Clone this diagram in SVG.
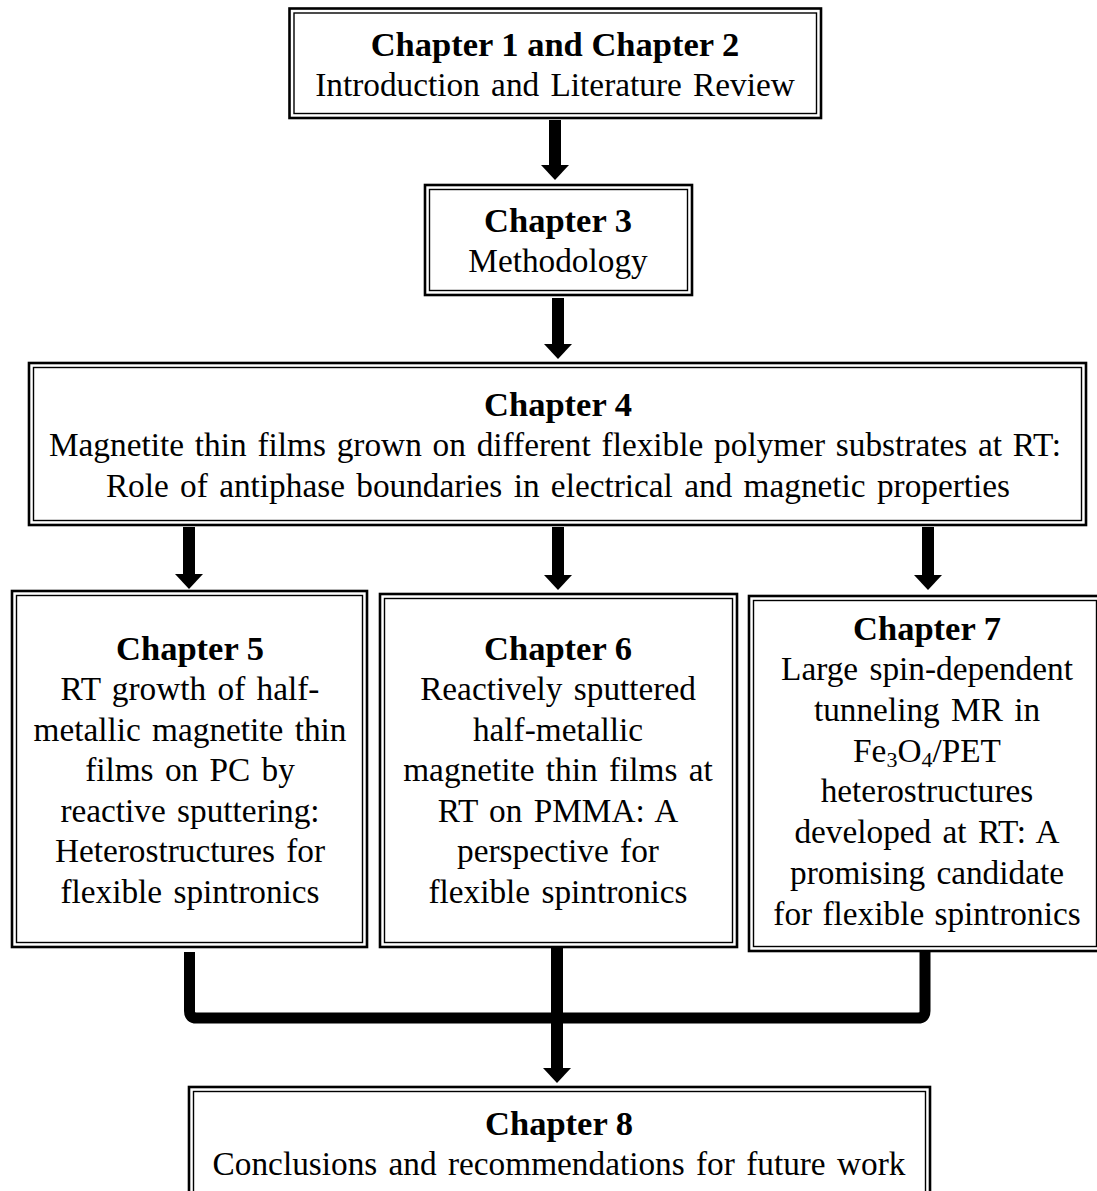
<svg xmlns="http://www.w3.org/2000/svg" width="1097" height="1191" viewBox="0 0 1097 1191">
<style>
.o{fill:#fff;stroke:#000;stroke-width:2.6}
.i{fill:none;stroke:#000;stroke-width:1.4}
text{font-family:"Liberation Serif","Times New Roman",serif;font-size:33.3px;fill:#000;text-anchor:middle}
.b{font-weight:bold;font-size:34.5px}
.sh{stroke:#000;stroke-width:12;fill:none}
.hd{fill:#000}
.sub{font-size:22px}
</style>
<rect width="1097" height="1191" fill="#fff"/>
<g id="connectors">
<line class="sh" x1="555" y1="120" x2="555" y2="166"/><polygon class="hd" points="541,165 569,165 555,180"/>
<line class="sh" x1="558" y1="298" x2="558" y2="345"/><polygon class="hd" points="544,344 572,344 558,359"/>
<line class="sh" x1="189" y1="527" x2="189" y2="575"/><polygon class="hd" points="175,574 203,574 189,589"/>
<line class="sh" x1="558" y1="527" x2="558" y2="576"/><polygon class="hd" points="544,575 572,575 558,590"/>
<line class="sh" x1="928" y1="527" x2="928" y2="576"/><polygon class="hd" points="914,575 942,575 928,590"/>
<path d="M189.5 952 V1011 Q189.5 1018 196.5 1018 H918 Q925 1018 925 1011 V952" fill="none" stroke="#000" stroke-width="11"/>
<line class="sh" x1="557" y1="947" x2="557" y2="1069"/><polygon class="hd" points="543,1068 571,1068 557,1083"/>
</g>
<g id="ch12">
<rect class="o" x="289.5" y="8.5" width="531.5" height="109.5"/><rect class="i" x="294" y="13" width="522.5" height="100.5"/>
<text class="b" x="555" y="56">Chapter 1 and Chapter 2</text>
<text x="555" y="96" word-spacing="3">Introduction and Literature Review</text>
</g>
<g id="ch3">
<rect class="o" x="425" y="185" width="267" height="110"/><rect class="i" x="429.5" y="189.5" width="258" height="101"/>
<text class="b" x="558" y="232">Chapter 3</text>
<text x="558" y="272">Methodology</text>
</g>
<g id="ch4">
<rect class="o" x="29" y="363" width="1057" height="162"/><rect class="i" x="33.5" y="367.5" width="1048" height="153"/>
<text class="b" x="558" y="416">Chapter 4</text>
<text x="555" y="456" word-spacing="2.5">Magnetite thin films grown on different flexible polymer substrates at RT:</text>
<text x="558" y="497" word-spacing="3">Role of antiphase boundaries in electrical and magnetic properties</text>
</g>
<g id="ch5">
<rect class="o" x="12" y="591" width="355" height="356"/><rect class="i" x="16.5" y="595.5" width="346" height="347"/>
<text class="b" x="190" y="660">Chapter 5</text>
<text x="190" y="700" word-spacing="3">RT growth of half-</text>
<text x="190" y="741" word-spacing="3">metallic magnetite thin</text>
<text x="190" y="781" word-spacing="3">films on PC by</text>
<text x="190" y="822" word-spacing="3">reactive sputtering:</text>
<text x="190" y="862" word-spacing="3">Heterostructures for</text>
<text x="190" y="903" word-spacing="3">flexible spintronics</text>
</g>
<g id="ch6">
<rect class="o" x="380" y="594" width="357" height="353"/><rect class="i" x="384.5" y="598.5" width="348" height="344"/>
<text class="b" x="558" y="660">Chapter 6</text>
<text x="558" y="700" word-spacing="3">Reactively sputtered</text>
<text x="558" y="741">half-metallic</text>
<text x="558" y="781" word-spacing="3">magnetite thin films at</text>
<text x="558" y="822" word-spacing="3">RT on PMMA: A</text>
<text x="558" y="862" word-spacing="3">perspective for</text>
<text x="558" y="903" word-spacing="3">flexible spintronics</text>
</g>
<g id="ch7">
<rect class="o" x="749" y="596" width="352" height="355"/><rect class="i" x="753.5" y="600.5" width="343" height="346"/>
<text class="b" x="927" y="640">Chapter 7</text>
<text x="927" y="680" word-spacing="3">Large spin-dependent</text>
<text x="927" y="721" word-spacing="3">tunneling MR in</text>
<text x="927" y="762">Fe<tspan class="sub" dy="5">3</tspan><tspan dy="-5">O</tspan><tspan class="sub" dy="5">4</tspan><tspan dy="-5">/PET</tspan></text>
<text x="927" y="802">heterostructures</text>
<text x="927" y="843" word-spacing="3">developed at RT: A</text>
<text x="927" y="884" word-spacing="3">promising candidate</text>
<text x="927" y="925" word-spacing="2">for flexible spintronics</text>
</g>
<g id="ch8">
<rect class="o" x="189" y="1087" width="741" height="120"/><rect class="i" x="193.5" y="1091.5" width="732" height="120"/>
<text class="b" x="559" y="1135">Chapter 8</text>
<text x="559" y="1175" word-spacing="3">Conclusions and recommendations for future work</text>
</g>
</svg>
